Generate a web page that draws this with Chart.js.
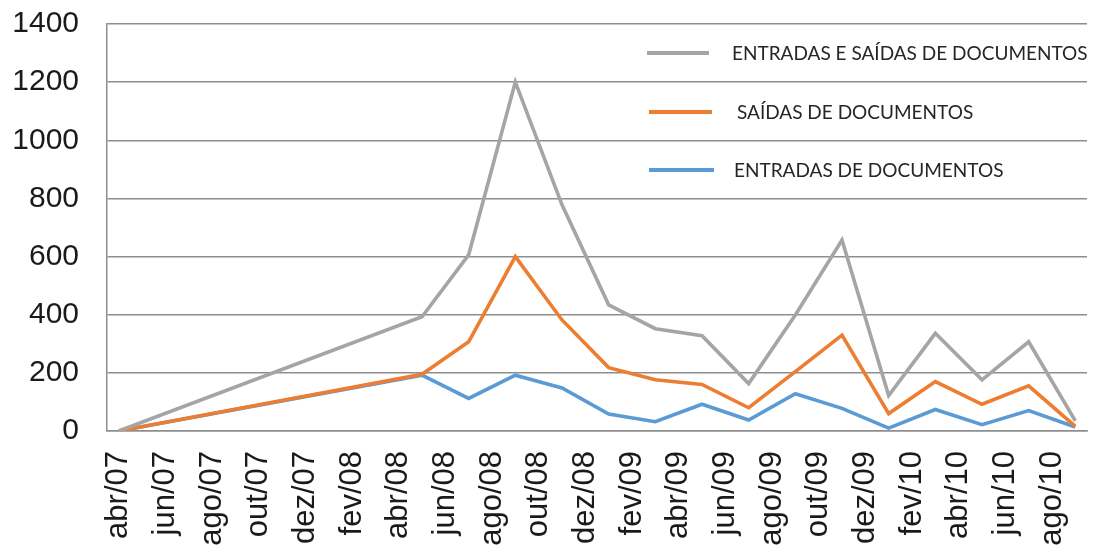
<!DOCTYPE html>
<html>
<head>
<meta charset="utf-8">
<script src="https://cdn.jsdelivr.net/npm/chart.js@4.4.1/dist/chart.umd.min.js"></script>
<style>
  html, body { margin: 0; padding: 0; background: #ffffff; }
  #wrap { width: 1099px; height: 547px; }
</style>
</head>
<body>
<div id="wrap"><canvas id="c" width="1099" height="547"></canvas></div>
<script>
// Monthly categories, abr/07 .. set/10
const months = [
  'abr/07','mai/07','jun/07','jul/07','ago/07','set/07','out/07','nov/07','dez/07',
  'jan/08','fev/08','mar/08','abr/08','mai/08','jun/08','jul/08','ago/08','set/08','out/08','nov/08','dez/08',
  'jan/09','fev/09','mar/09','abr/09','mai/09','jun/09','jul/09','ago/09','set/09','out/09','nov/09','dez/09',
  'jan/10','fev/10','mar/10','abr/10','mai/10','jun/10','jul/10','ago/10','set/10'
];

// Counts per month (null = no record that month)
const entradasESaidas = [
  0, null, null, null, null, null, null, null, null,
  null, null, null, null, 393, null, 606, null, 1200, null, 778, null,
  434, null, 352, null, 328, null, 163, null, 399, null, 657, null,
  122, null, 336, null, 176, null, 307, null, 35
];
const saidas = [
  0, null, null, null, null, null, null, null, null,
  null, null, null, null, 195, null, 307, null, 600, null, 382, null,
  218, null, 176, null, 160, null, 80, null, 204, null, 330, null,
  60, null, 170, null, 92, null, 155, null, 16
];
const entradas = [
  0, null, null, null, null, null, null, null, null,
  null, null, null, null, 192, null, 112, null, 192, null, 148, null,
  58, null, 32, null, 92, null, 38, null, 128, null, 78, null,
  10, null, 74, null, 22, null, 70, null, 14
];

const seriesNames = [
  'ENTRADAS E SAÍDAS DE DOCUMENTOS',
  'SAÍDAS DE DOCUMENTOS',
  'ENTRADAS DE DOCUMENTOS'
];
const seriesColors = ['#a5a5a5', '#ed7d31', '#5b9bd5'];

const yTicks = [0, 200, 400, 600, 800, 1000, 1200, 1400];

// Legend drawn inside the plot area, top right
const insideLegend = {
  id: 'insideLegend',
  afterDatasetsDraw(chart) {
    const ctx = chart.ctx;
    const rows = [
      { y: 53,  x0: 647, x1: 709, tx: 732 },
      { y: 112, x0: 649, x1: 712, tx: 737 },
      { y: 170, x0: 649, x1: 714, tx: 734 }
    ];
    ctx.save();
    chart.data.datasets.forEach((ds, i) => {
      const r = rows[i];
      ctx.strokeStyle = ds.borderColor;
      ctx.lineWidth = 4;
      ctx.lineCap = 'butt';
      ctx.beginPath();
      ctx.moveTo(r.x0, r.y);
      ctx.lineTo(r.x1, r.y);
      ctx.stroke();
      ctx.fillStyle = '#262626';
      ctx.font = '19px Lato';
      ctx.textBaseline = 'middle';
      ctx.textAlign = 'left';
      ctx.fillText(ds.label, r.tx, r.y + 1);
    });
    ctx.restore();
  }
};

const whiteBg = {
  id: 'whiteBg',
  beforeDraw(chart) {
    const ctx = chart.ctx;
    ctx.save();
    ctx.fillStyle = '#ffffff';
    ctx.fillRect(0, 0, chart.width, chart.height);
    ctx.restore();
  }
};

const gridColor = '#8e8e8e';

new Chart(document.getElementById('c'), {
  type: 'line',
  data: {
    labels: months,
    datasets: [
      { label: seriesNames[0], data: entradasESaidas, borderColor: seriesColors[0] },
      { label: seriesNames[1], data: saidas, borderColor: seriesColors[1] },
      { label: seriesNames[2], data: entradas, borderColor: seriesColors[2] }
    ].map(d => Object.assign(d, {
      backgroundColor: d.borderColor,
      borderWidth: 3.6,
      pointRadius: 0,
      tension: 0,
      spanGaps: true,
      borderJoinStyle: 'miter',
      fill: false
    }))
  },
  options: {
    responsive: false,
    animation: false,
    layout: { padding: { top: 24, right: 12, left: 0, bottom: 0 } },
    plugins: {
      legend: { display: false },
      tooltip: { enabled: false }
    },
    scales: {
      x: {
        type: 'category',
        offset: true,
        grid: { display: false, drawTicks: false },
        border: { display: true, color: gridColor, width: 1.5 },
        ticks: {
          autoSkip: false,
          maxRotation: 90,
          minRotation: 90,
          padding: 20,
          color: '#1a1a1a',
          font: { family: 'Liberation Sans', size: 31 },
          callback: (v, i) => (i % 2 === 0 ? months[i] : '')
        },
        afterFit(scale) {
          scale.height = 116;
          scale.paddingLeft = 0;
          scale.paddingRight = 0;
        }
      },
      y: {
        min: 0,
        max: 1400,
        afterBuildTicks(scale) { scale.ticks = yTicks.map(v => ({ value: v })); },
        grid: { color: gridColor, lineWidth: 1.5, drawTicks: false },
        border: { display: true, color: gridColor, width: 1.5 },
        ticks: {
          padding: 28,
          color: '#1a1a1a',
          font: { family: 'Liberation Sans', size: 30 },
          callback: v => String(v)
        },
        afterFit(scale) {
          scale.width = 107;
          scale.paddingTop = 0;
          scale.paddingBottom = 0;
        }
      }
    }
  },
  plugins: [whiteBg, insideLegend]
});
</script>
</body>
</html>
